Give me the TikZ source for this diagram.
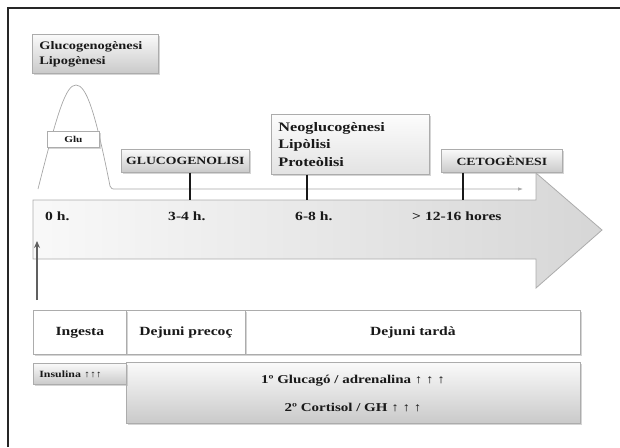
\documentclass[tikz,border=0pt]{standalone}
\usepackage{fontspec}
\setmainfont{Liberation Serif}[FakeStretch=1.25]
\usetikzlibrary{shadows,arrows.meta}
\begin{document}
\begin{tikzpicture}[x=1pt,y=-1pt,
  txt/.style={text=black!90, inner sep=0pt},
  shad/.style={drop shadow={shadow xshift=1.5pt,shadow yshift=-1.5pt,fill=gray!60,opacity=0.55}},
  gbox/.style={draw=gray!65, line width=0.7pt, top color=gray!4, bottom color=gray!42, shad, anchor=north west, inner sep=0pt, text=black!90},
  wbox/.style={draw=gray!65, line width=0.9pt, fill=white, shad, anchor=north west, inner sep=0pt, text=black!90},
  fA/.style={font=\fontsize{12.5}{15}\selectfont\bfseries},
  fC/.style={font=\fontsize{11}{13}\selectfont\bfseries},
  tick/.style={line width=2.6pt, black!90},
]
\useasboundingbox (0,0) rectangle (620,447);
% frame
\draw[line width=2pt, black!85] (8,447) -- (8,8) -- (620,8);

% big arrow
\path[draw=gray!65, line width=0.8pt, left color=gray!5, right color=gray!32]
  (33,200) -- (536,200) -- (536,173) -- (602,230) -- (536,288) -- (536,259) -- (33,259) -- cycle;

% bell curve and thin arrow
\coordinate (bellL) at (38,189);
\coordinate (thinEnd) at (523,189);
\draw[gray!70, line width=0.7pt, -{Latex[length=5pt,width=3.5pt]}]
  (bellL) .. controls (58,110) and (66,85) .. (76,85)
  .. controls (86,85) and (95,110) .. (110,186)
  .. controls (111,189) and (112,189) .. (116,189) -- (thinEnd);

% top boxes
\node[gbox, minimum width=126pt, minimum height=39pt, text width=126pt, align=left,
  font=\fontsize{11.5}{15}\selectfont\bfseries] (gg) at (32,34)
  {\hspace*{7pt}Glucogenogènesi\\\hspace*{7pt}Lipogènesi};
\node[wbox, line width=0.8pt, minimum width=52pt, minimum height=16pt,
  font=\fontsize{9}{11}\selectfont\bfseries] (glu) at (47,131) {Glu};

\node[gbox, fC, minimum width=128pt, minimum height=23pt] (gl) at (121,149) {GLUCOGENOLISI};
\node[gbox, top color=gray!2, bottom color=gray!22, minimum width=158pt, minimum height=60pt,
  text width=158pt, align=left, font=\fontsize{13}{17.5}\selectfont\bfseries] (neo) at (271,114)
  {\hspace*{7pt}Neoglucogènesi\\\hspace*{7pt}Lipòlisi\\\hspace*{7pt}Proteòlisi};
\node[gbox, fC, minimum width=121pt, minimum height=23pt] (ce) at (441,149) {CETOGÈNESI};

% ticks
\coordinate (t1) at (190,200);
\coordinate (t2) at (307,200);
\coordinate (t3) at (463,200);
\draw[tick] (gl.south -| t1) -- (t1);
\draw[tick] (neo.south -| t2) -- (t2);
\draw[tick] (ce.south -| t3) -- (t3);

% time labels
\node[txt, fA, anchor=west] (h0) at (45,216) {0 h.};
\node[txt, fA, anchor=west] (h1) at (168,216) {3-4 h.};
\node[txt, fA, anchor=west] (h2) at (295,216) {6-8 h.};
\node[txt, fA, anchor=west] (h3) at (412,216) {> 12-16 hores};

% upward arrow
\coordinate (upS) at (37,300);
\coordinate (upE) at (37,241);
\draw[gray!75!black, line width=2pt, -{Stealth[length=7pt,width=6pt]}] (upS) -- (upE);

% bottom row
\node[wbox, fA, minimum width=335pt, minimum height=44pt] (dt) at (245,310) {Dejuni tardà};
\node[wbox, fA, minimum width=119pt, minimum height=44pt] (dp) at (126,310) {Dejuni precoç};
\node[wbox, fA, minimum width=93pt, minimum height=44pt] (in) at (33,310) {Ingesta};

\node[gbox, minimum width=454pt, minimum height=61pt] (hor) at (126,362) {};
\node[gbox, minimum width=93pt, minimum height=21pt, text width=93pt, align=left,
  font=\fontsize{9.5}{11}\selectfont\bfseries] (ins) at (33,363) {\hspace*{6pt}Insulina ↑↑↑};
\node[txt, font=\fontsize{12}{14}\selectfont\bfseries] (h1t) at (353,381) {1º Glucagó / adrenalina ↑ ↑ ↑};
\node[txt, font=\fontsize{12}{14}\selectfont\bfseries] (h2t) at (353,408) {2º Cortisol / GH ↑ ↑ ↑};
\end{tikzpicture}
\end{document}
